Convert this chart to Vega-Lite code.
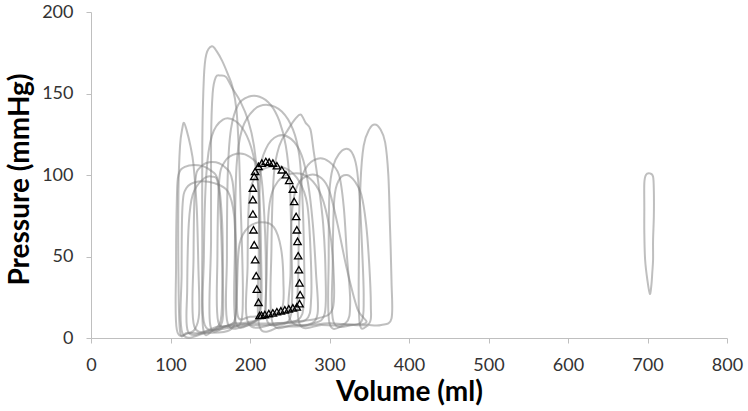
{
  "$schema": "https://vega.github.io/schema/vega-lite/v6.json",
  "width": 636,
  "height": 326,
  "autosize": {"type": "none"},
  "padding": {"left": 91, "top": 12, "right": 21, "bottom": 73},
  "background": "white",
  "config": {"view": {"stroke": null}, "font": "Lato"},
  "datasets": {
    "loops": [
      {"g":"G1","i":0,"V":112,"P":4},{"g":"G1","i":1,"V":110,"P":40},{"g":"G1","i":2,"V":110,"P":90},{"g":"G1","i":3,"V":112,"P":118},{"g":"G1","i":4,"V":115,"P":129},{"g":"G1","i":5,"V":117,"P":132},{"g":"G1","i":6,"V":120,"P":128},{"g":"G1","i":7,"V":125,"P":118},{"g":"G1","i":8,"V":129,"P":106},{"g":"G1","i":9,"V":133,"P":80},{"g":"G1","i":10,"V":135,"P":45},{"g":"G1","i":11,"V":136,"P":15},{"g":"G1","i":12,"V":130,"P":5},{"g":"G1","i":13,"V":120,"P":3},
      {"g":"G2","i":0,"V":108,"P":5},{"g":"G2","i":1,"V":107,"P":45},{"g":"G2","i":2,"V":108,"P":85},{"g":"G2","i":3,"V":110,"P":100},{"g":"G2","i":4,"V":118,"P":105},{"g":"G2","i":5,"V":135,"P":106},{"g":"G2","i":6,"V":150,"P":103},{"g":"G2","i":7,"V":160,"P":96},{"g":"G2","i":8,"V":165,"P":70},{"g":"G2","i":9,"V":166,"P":35},{"g":"G2","i":10,"V":165,"P":10},{"g":"G2","i":11,"V":150,"P":4},{"g":"G2","i":12,"V":125,"P":3},
      {"g":"G3","i":0,"V":115,"P":3},{"g":"G3","i":1,"V":114,"P":40},{"g":"G3","i":2,"V":115,"P":80},{"g":"G3","i":3,"V":120,"P":92},{"g":"G3","i":4,"V":135,"P":96},{"g":"G3","i":5,"V":155,"P":95},{"g":"G3","i":6,"V":172,"P":90},{"g":"G3","i":7,"V":180,"P":75},{"g":"G3","i":8,"V":182,"P":45},{"g":"G3","i":9,"V":182,"P":15},{"g":"G3","i":10,"V":175,"P":5},{"g":"G3","i":11,"V":145,"P":3},
      {"g":"G4","i":0,"V":141,"P":6},{"g":"G4","i":1,"V":140,"P":60},{"g":"G4","i":2,"V":140,"P":120},{"g":"G4","i":3,"V":142,"P":160},{"g":"G4","i":4,"V":145,"P":174},{"g":"G4","i":5,"V":152,"P":179},{"g":"G4","i":6,"V":158,"P":176},{"g":"G4","i":7,"V":165,"P":170},{"g":"G4","i":8,"V":172,"P":162},{"g":"G4","i":9,"V":178,"P":154},{"g":"G4","i":10,"V":183,"P":140},{"g":"G4","i":11,"V":186,"P":115},{"g":"G4","i":12,"V":188,"P":85},{"g":"G4","i":13,"V":190,"P":55},{"g":"G4","i":14,"V":191,"P":25},{"g":"G4","i":15,"V":188,"P":9},{"g":"G4","i":16,"V":170,"P":6},{"g":"G4","i":17,"V":155,"P":5},
      {"g":"G5","i":0,"V":150,"P":8},{"g":"G5","i":1,"V":151,"P":60},{"g":"G5","i":2,"V":151,"P":120},{"g":"G5","i":3,"V":153,"P":150},{"g":"G5","i":4,"V":157,"P":160},{"g":"G5","i":5,"V":163,"P":161},{"g":"G5","i":6,"V":170,"P":160},{"g":"G5","i":7,"V":178,"P":153},{"g":"G5","i":8,"V":188,"P":145},{"g":"G5","i":9,"V":198,"P":133},{"g":"G5","i":10,"V":205,"P":118},{"g":"G5","i":11,"V":210,"P":95},{"g":"G5","i":12,"V":212,"P":65},{"g":"G5","i":13,"V":213,"P":30},{"g":"G5","i":14,"V":210,"P":12},{"g":"G5","i":15,"V":190,"P":8},{"g":"G5","i":16,"V":170,"P":7},
      {"g":"G6","i":0,"V":172,"P":9},{"g":"G6","i":1,"V":171,"P":50},{"g":"G6","i":2,"V":172,"P":100},{"g":"G6","i":3,"V":176,"P":128},{"g":"G6","i":4,"V":185,"P":143},{"g":"G6","i":5,"V":198,"P":148},{"g":"G6","i":6,"V":212,"P":148},{"g":"G6","i":7,"V":226,"P":143},{"g":"G6","i":8,"V":237,"P":133},{"g":"G6","i":9,"V":245,"P":118},{"g":"G6","i":10,"V":250,"P":95},{"g":"G6","i":11,"V":252,"P":60},{"g":"G6","i":12,"V":253,"P":25},{"g":"G6","i":13,"V":248,"P":10},{"g":"G6","i":14,"V":225,"P":8},{"g":"G6","i":15,"V":200,"P":8},
      {"g":"G7","i":0,"V":182,"P":10},{"g":"G7","i":1,"V":181,"P":55},{"g":"G7","i":2,"V":183,"P":105},{"g":"G7","i":3,"V":190,"P":128},{"g":"G7","i":4,"V":205,"P":140},{"g":"G7","i":5,"V":222,"P":143},{"g":"G7","i":6,"V":240,"P":139},{"g":"G7","i":7,"V":254,"P":128},{"g":"G7","i":8,"V":262,"P":112},{"g":"G7","i":9,"V":266,"P":85},{"g":"G7","i":10,"V":268,"P":50},{"g":"G7","i":11,"V":268,"P":22},{"g":"G7","i":12,"V":260,"P":11},{"g":"G7","i":13,"V":230,"P":9},{"g":"G7","i":14,"V":205,"P":9},
      {"g":"G8","i":0,"V":228,"P":10},{"g":"G8","i":1,"V":227,"P":55},{"g":"G8","i":2,"V":230,"P":100},{"g":"G8","i":3,"V":237,"P":118},{"g":"G8","i":4,"V":248,"P":128},{"g":"G8","i":5,"V":258,"P":135},{"g":"G8","i":6,"V":264,"P":137},{"g":"G8","i":7,"V":270,"P":132},{"g":"G8","i":8,"V":276,"P":128},{"g":"G8","i":9,"V":280,"P":115},{"g":"G8","i":10,"V":286,"P":95},{"g":"G8","i":11,"V":292,"P":70},{"g":"G8","i":12,"V":295,"P":40},{"g":"G8","i":13,"V":294,"P":15},{"g":"G8","i":14,"V":280,"P":9},{"g":"G8","i":15,"V":255,"P":8},
      {"g":"G9","i":0,"V":300,"P":9},{"g":"G9","i":1,"V":299,"P":50},{"g":"G9","i":2,"V":300,"P":90},{"g":"G9","i":3,"V":305,"P":106},{"g":"G9","i":4,"V":312,"P":113},{"g":"G9","i":5,"V":320,"P":116},{"g":"G9","i":6,"V":328,"P":114},{"g":"G9","i":7,"V":334,"P":105},{"g":"G9","i":8,"V":338,"P":85},{"g":"G9","i":9,"V":341,"P":55},{"g":"G9","i":10,"V":343,"P":25},{"g":"G9","i":11,"V":340,"P":10},{"g":"G9","i":12,"V":320,"P":8},
      {"g":"G10","i":0,"V":305,"P":10},{"g":"G10","i":1,"V":304,"P":45},{"g":"G10","i":2,"V":306,"P":85},{"g":"G10","i":3,"V":312,"P":97},{"g":"G10","i":4,"V":322,"P":100},{"g":"G10","i":5,"V":332,"P":96},{"g":"G10","i":6,"V":340,"P":88},{"g":"G10","i":7,"V":346,"P":70},{"g":"G10","i":8,"V":350,"P":45},{"g":"G10","i":9,"V":352,"P":20},{"g":"G10","i":10,"V":350,"P":9},{"g":"G10","i":11,"V":330,"P":8},
      {"g":"G11","i":0,"V":338,"P":9},{"g":"G11","i":1,"V":337,"P":50},{"g":"G11","i":2,"V":339,"P":95},{"g":"G11","i":3,"V":343,"P":118},{"g":"G11","i":4,"V":350,"P":128},{"g":"G11","i":5,"V":357,"P":131},{"g":"G11","i":6,"V":364,"P":128},{"g":"G11","i":7,"V":370,"P":120},{"g":"G11","i":8,"V":374,"P":100},{"g":"G11","i":9,"V":376,"P":70},{"g":"G11","i":10,"V":378,"P":35},{"g":"G11","i":11,"V":378,"P":12},{"g":"G11","i":12,"V":365,"P":8},{"g":"G11","i":13,"V":350,"P":8},
      {"g":"G12","i":0,"V":703,"P":27},{"g":"G12","i":1,"V":700,"P":35},{"g":"G12","i":2,"V":697,"P":48},{"g":"G12","i":3,"V":696,"P":65},{"g":"G12","i":4,"V":696,"P":80},{"g":"G12","i":5,"V":696,"P":95},{"g":"G12","i":6,"V":698,"P":100},{"g":"G12","i":7,"V":703,"P":101},{"g":"G12","i":8,"V":707,"P":99},{"g":"G12","i":9,"V":708,"P":90},{"g":"G12","i":10,"V":708,"P":75},{"g":"G12","i":11,"V":707,"P":60},{"g":"G12","i":12,"V":707,"P":48},{"g":"G12","i":13,"V":706,"P":40},{"g":"G12","i":14,"V":705,"P":33},
      {"g":"G13","i":0,"V":160,"P":10},{"g":"G13","i":1,"V":159,"P":50},{"g":"G13","i":2,"V":161,"P":95},{"g":"G13","i":3,"V":168,"P":108},{"g":"G13","i":4,"V":183,"P":113},{"g":"G13","i":5,"V":200,"P":111},{"g":"G13","i":6,"V":213,"P":102},{"g":"G13","i":7,"V":218,"P":75},{"g":"G13","i":8,"V":220,"P":40},{"g":"G13","i":9,"V":218,"P":15},{"g":"G13","i":10,"V":200,"P":10},{"g":"G13","i":11,"V":180,"P":9},
      {"g":"G14","i":0,"V":212,"P":7},{"g":"G14","i":1,"V":211,"P":50},{"g":"G14","i":2,"V":213,"P":100},{"g":"G14","i":3,"V":220,"P":116},{"g":"G14","i":4,"V":235,"P":124},{"g":"G14","i":5,"V":252,"P":122},{"g":"G14","i":6,"V":265,"P":112},{"g":"G14","i":7,"V":273,"P":95},{"g":"G14","i":8,"V":279,"P":70},{"g":"G14","i":9,"V":283,"P":40},{"g":"G14","i":10,"V":285,"P":15},{"g":"G14","i":11,"V":272,"P":8},{"g":"G14","i":12,"V":240,"P":7},
      {"g":"G15","i":0,"V":252,"P":10},{"g":"G15","i":1,"V":251,"P":40},{"g":"G15","i":2,"V":253,"P":78},{"g":"G15","i":3,"V":260,"P":94},{"g":"G15","i":4,"V":275,"P":100},{"g":"G15","i":5,"V":290,"P":98},{"g":"G15","i":6,"V":300,"P":90},{"g":"G15","i":7,"V":310,"P":70},{"g":"G15","i":8,"V":322,"P":42},{"g":"G15","i":9,"V":335,"P":18},{"g":"G15","i":10,"V":345,"P":9},{"g":"G15","i":11,"V":300,"P":9},
      {"g":"G16","i":0,"V":185,"P":13},{"g":"G16","i":1,"V":184,"P":35},{"g":"G16","i":2,"V":187,"P":58},{"g":"G16","i":3,"V":198,"P":68},{"g":"G16","i":4,"V":215,"P":71},{"g":"G16","i":5,"V":230,"P":68},{"g":"G16","i":6,"V":239,"P":55},{"g":"G16","i":7,"V":242,"P":35},{"g":"G16","i":8,"V":240,"P":18},{"g":"G16","i":9,"V":220,"P":14},{"g":"G16","i":10,"V":200,"P":13},
      {"g":"G17","i":0,"V":130,"P":7},{"g":"G17","i":1,"V":129,"P":50},{"g":"G17","i":2,"V":131,"P":95},{"g":"G17","i":3,"V":138,"P":105},{"g":"G17","i":4,"V":153,"P":108},{"g":"G17","i":5,"V":168,"P":105},{"g":"G17","i":6,"V":178,"P":96},{"g":"G17","i":7,"V":182,"P":65},{"g":"G17","i":8,"V":183,"P":30},{"g":"G17","i":9,"V":180,"P":10},{"g":"G17","i":10,"V":160,"P":7},
      {"g":"G18","i":0,"V":222,"P":10},{"g":"G18","i":1,"V":221,"P":40},{"g":"G18","i":2,"V":224,"P":80},{"g":"G18","i":3,"V":235,"P":96},{"g":"G18","i":4,"V":255,"P":101},{"g":"G18","i":5,"V":275,"P":98},{"g":"G18","i":6,"V":290,"P":87},{"g":"G18","i":7,"V":300,"P":67},{"g":"G18","i":8,"V":305,"P":42},{"g":"G18","i":9,"V":304,"P":18},{"g":"G18","i":10,"V":285,"P":12},{"g":"G18","i":11,"V":250,"P":10},
      {"g":"G19","i":0,"V":122,"P":4},{"g":"G19","i":1,"V":121,"P":30},{"g":"G19","i":2,"V":123,"P":70},{"g":"G19","i":3,"V":128,"P":88},{"g":"G19","i":4,"V":140,"P":97},{"g":"G19","i":5,"V":152,"P":99},{"g":"G19","i":6,"V":160,"P":94},{"g":"G19","i":7,"V":164,"P":62},{"g":"G19","i":8,"V":165,"P":28},{"g":"G19","i":9,"V":162,"P":9},{"g":"G19","i":10,"V":145,"P":4},
      {"g":"G20","i":0,"V":143,"P":8},{"g":"G20","i":1,"V":142,"P":50},{"g":"G20","i":2,"V":145,"P":100},{"g":"G20","i":3,"V":152,"P":124},{"g":"G20","i":4,"V":166,"P":134},{"g":"G20","i":5,"V":182,"P":133},{"g":"G20","i":6,"V":196,"P":124},{"g":"G20","i":7,"V":206,"P":108},{"g":"G20","i":8,"V":212,"P":84},{"g":"G20","i":9,"V":214,"P":50},{"g":"G20","i":10,"V":214,"P":20},{"g":"G20","i":11,"V":205,"P":10},{"g":"G20","i":12,"V":175,"P":8},
      {"g":"G21","i":0,"V":198,"P":9},{"g":"G21","i":1,"V":197,"P":45},{"g":"G21","i":2,"V":199,"P":85},{"g":"G21","i":3,"V":208,"P":100},{"g":"G21","i":4,"V":225,"P":105},{"g":"G21","i":5,"V":245,"P":104},{"g":"G21","i":6,"V":262,"P":96},{"g":"G21","i":7,"V":272,"P":82},{"g":"G21","i":8,"V":276,"P":55},{"g":"G21","i":9,"V":277,"P":25},{"g":"G21","i":10,"V":270,"P":11},{"g":"G21","i":11,"V":235,"P":9},
      {"g":"G22","i":0,"V":262,"P":9},{"g":"G22","i":1,"V":261,"P":45},{"g":"G22","i":2,"V":263,"P":90},{"g":"G22","i":3,"V":270,"P":104},{"g":"G22","i":4,"V":285,"P":110},{"g":"G22","i":5,"V":300,"P":108},{"g":"G22","i":6,"V":312,"P":100},{"g":"G22","i":7,"V":318,"P":80},{"g":"G22","i":8,"V":322,"P":50},{"g":"G22","i":9,"V":326,"P":22},{"g":"G22","i":10,"V":320,"P":9},{"g":"G22","i":11,"V":290,"P":8}
    ],
    "tri": [
      {"V":206.5,"P":102.2},{"V":210.7,"P":105.3},{"V":214.9,"P":107.3},{"V":219.9,"P":108.3},{"V":224.1,"P":107.9},{"V":228.8,"P":107.3},{"V":233.8,"P":105.7},{"V":240,"P":103.2},{"V":245.1,"P":100.2},{"V":249.3,"P":96.7},{"V":253.9,"P":91.4},
      {"V":255.6,"P":83.8},{"V":258.1,"P":74.6},{"V":258.9,"P":66.4},{"V":259.8,"P":59.3},{"V":260.6,"P":50.5},{"V":261.5,"P":41.9},{"V":262.3,"P":33.8},{"V":263.1,"P":26.6},{"V":262.3,"P":21.1},
      {"V":258.9,"P":19.1},{"V":253.9,"P":18.5},{"V":248.8,"P":17.9},{"V":243.8,"P":17.3},{"V":238.8,"P":16.7},{"V":233.8,"P":16.1},{"V":228.8,"P":15.4},{"V":223.7,"P":15},{"V":218.7,"P":14.4},{"V":214.5,"P":14},{"V":212,"P":13.8},
      {"V":210.7,"P":21.9},{"V":208.6,"P":30},{"V":207.8,"P":38.2},{"V":206.5,"P":48},{"V":205.3,"P":57.2},{"V":204.4,"P":66.4},{"V":203.6,"P":76.1},{"V":203.6,"P":84.9},{"V":203.6,"P":92},{"V":205.3,"P":99.2}
    ]
  },
  "layer": [
    {
      "data": {"name": "loops"},
      "mark": {"type": "line", "interpolate": "cardinal-closed", "stroke": "#808080", "strokeWidth": 2, "strokeOpacity": 0.5},
      "encoding": {
        "x": {"field": "V", "type": "quantitative", "scale": {"domain": [0, 800], "nice": false},
          "axis": {"values": [0,100,200,300,400,500,600,700,800], "title": "Volume (ml)", "grid": false,
            "domainColor": "#bfbfbf", "tickColor": "#bfbfbf", "tickSize": 5, "labelFontSize": 18, "labelColor": "#333333",
            "labelBaseline": "alphabetic", "labelPadding": 27, "labelFlush": false,
            "titleFontSize": 28, "titleFontWeight": "bold", "titleColor": "#000000", "titleBaseline": "alphabetic", "titleY": 62}},
        "y": {"field": "P", "type": "quantitative", "scale": {"domain": [0, 200], "nice": false},
          "axis": {"values": [0,50,100,150,200], "title": "Pressure (mmHg)", "grid": false,
            "domainColor": "#bfbfbf", "tickColor": "#bfbfbf", "tickSize": 5, "labelFontSize": 18, "labelColor": "#333333",
            "labelPadding": 13, "labelFlush": false,
            "titleFontSize": 28, "titleFontWeight": "bold", "titleColor": "#000000", "titleAngle": -90, "titleBaseline": "alphabetic", "titleX": -63, "titleY": 167}},
        "detail": {"field": "g"},
        "order": {"field": "i", "type": "quantitative"}
      }
    },
    {
      "data": {"name": "tri"},
      "mark": {"type": "point", "shape": "triangle-up", "filled": false, "stroke": "#000000", "strokeWidth": 1.3, "size": 55, "opacity": 1},
      "encoding": {
        "x": {"field": "V", "type": "quantitative"},
        "y": {"field": "P", "type": "quantitative"}
      }
    }
  ]
}
